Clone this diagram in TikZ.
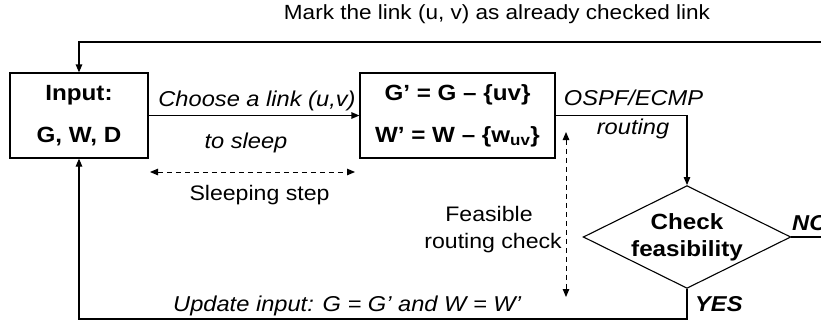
\documentclass[tikz,border=0pt]{standalone}
\usepackage{fontspec}
\setmainfont{Liberation Sans}[FakeStretch=1.1]
\usetikzlibrary{shapes.geometric,arrows.meta}
\begin{document}
\begin{tikzpicture}[x=1pt,y=-1pt,
  txt/.style={inner sep=0pt,anchor=base,font=\fontsize{21}{24}\selectfont},
  itxt/.style={inner sep=0pt,anchor=base,font=\fontsize{21.5}{24}\selectfont\itshape},
  bitxt/.style={inner sep=0pt,anchor=base west,font=\fontsize{21.5}{24}\selectfont\bfseries\itshape},
  box/.style={draw,line width=1.2pt,minimum height=85pt,inner sep=0pt,align=center,font=\fontsize{22}{42}\selectfont\bfseries},
  dia/.style={draw,diamond,line width=1.1pt,minimum width=206pt,minimum height=102pt,aspect=2.02,inner sep=0pt,align=center,font=\fontsize{22}{27}\selectfont\bfseries},
  conn/.style={line width=1.2pt,-{Triangle[length=8pt,width=6.5pt]}},
  dconn/.style={line width=1pt,dash pattern=on 5pt off 4pt,{Triangle[length=8pt,width=6.5pt]}-{Triangle[length=8pt,width=6.5pt]}}
]
\useasboundingbox (0,0) rectangle (821,322);
\clip (0,0) rectangle (821,322);
\fill[white] (0,0) rectangle (821,322);

\node[box,minimum width=138pt] (inp) at (79,115.5) {Input:\\G, W, D};
\node[box,minimum width=195pt] (gp) at (457.5,115.5) {G’ = G – \{uv\}\\W’ = W – \{w\textsubscript{uv}\}};
\node[dia] (chk) at (687,237) {Check\\feasibility};

\coordinate (noR) at (840,237);
\coordinate (topR) at (840,42);
\coordinate (botR) at (687,319);
\coordinate (s1) at (150,172);
\coordinate (s2) at (355,172);
\coordinate (f1) at (566,132);
\coordinate (f2) at (566,297);

\draw[conn] (inp.east) -- (gp.west);
\draw[conn] (gp.east) -- (gp.east -| chk.north) -- (chk.north);
\draw[conn] (chk.east) -- (noR) -- (topR) -- (topR -| inp.north) -- (inp.north);
\draw[conn] (chk.south) -- (botR) -- (botR -| inp.south) -- (inp.south);
\draw[dconn] (s1) -- (s2);
\draw[dconn] (f1) -- (f2);

\node[txt,font=\fontsize{20.5}{24}\selectfont] (mark) at (497,19) {Mark the link (u, v) as already checked link};
\node[itxt] (choose) at (257,106) {Choose a link (u,v)};
\node[itxt] (sleep) at (246,148) {to sleep};
\node[txt] (sstep) at (259.5,200) {Sleeping step};
\node[itxt] (ospf) at (633.5,105.5) {OSPF/ECMP};
\node[itxt] (rout) at (633,134) {routing};
\node[txt] (feas) at (489,221.5) {Feasible};
\node[txt,anchor=base east] (rchk) at (562,248.5) {routing check};
\node[itxt,anchor=base west] (upd) at (173,311) {Update input: G = G’ and W = W’};
\node[bitxt] (no) at (792,230) {NO};
\node[bitxt] (yes) at (695,311.5) {YES};
\end{tikzpicture}
\end{document}
